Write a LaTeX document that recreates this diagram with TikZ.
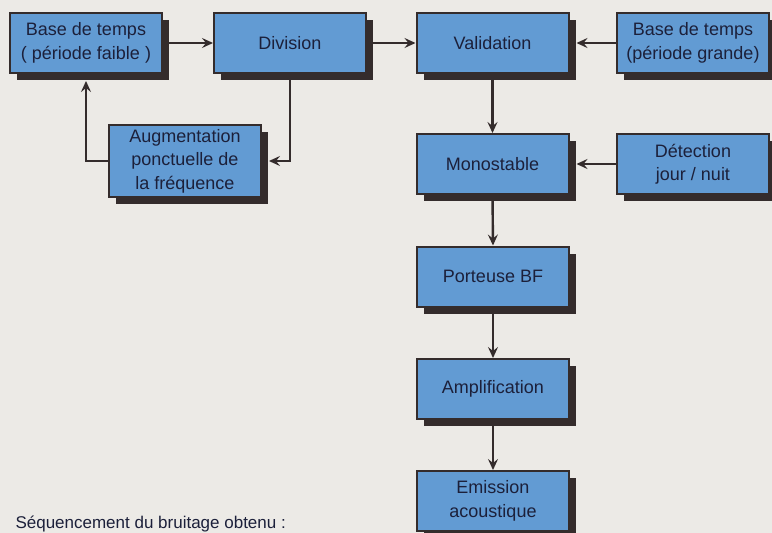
\documentclass[tikz,border=0pt]{standalone}
\usepackage{fontspec}
\setmainfont{Liberation Sans}
\usetikzlibrary{arrows.meta,shadows}
\definecolor{bgc}{RGB}{236,234,230}
\definecolor{boxblue}{RGB}{98,155,211}
\definecolor{ink}{RGB}{28,32,58}
\definecolor{shade}{RGB}{52,44,44}
\begin{document}
\begin{tikzpicture}[x=1pt,y=-1pt,
  blk/.style={draw=shade, line width=2pt, fill=boxblue, minimum width=152pt,
    minimum height=60pt, inner sep=0pt, align=center, text=ink,
    font=\fontsize{18}{23.5}\selectfont,
    drop shadow={shadow xshift=7pt, shadow yshift=-7pt, opacity=1, fill=shade}},
  conn/.style={draw=shade, line width=2.4pt, -{Stealth[length=11pt,width=10pt,inset=4pt]}}]
\fill[bgc] (0,0) rectangle (772,533);
\useasboundingbox (0,0) rectangle (772,533);

\node[blk] (b1)   at (86,43)    {Base de temps\\( période faible )};
\node[blk] (div)  at (290,43)   {Division};
\node[blk, minimum height=72pt] (aug) at (185,161) {Augmentation\\ponctuelle de\\la fréquence};
\node[blk] (val)  at (492.5,43) {Validation};
\node[blk] (bg)   at (693,43)   {Base de temps\\(période grande)};
\node[blk] (mono) at (492.5,164) {Monostable};
\node[blk] (det)  at (693,164)  {Détection\\jour / nuit};
\node[blk] (port) at (493,276.5) {Porteuse BF};
\node[blk] (ampl) at (493,389)  {Amplification};
\node[blk] (emis) at (493,501)  {Emission\\acoustique};

\node[anchor=base west, text=ink, font=\fontsize{17}{21}\selectfont] (seq) at (12,528) {Séquencement du bruitage obtenu :};

\draw[conn] (b1.east) -- (div.west);
\draw[conn] (div.east) -- (val.west);
\draw[conn] (bg.west) -- ([xshift=7pt]val.east);
\draw[conn] (div.south) |- ([xshift=7pt]aug.east);
\draw[conn] (aug.west) -| ([yshift=-7pt]b1.south);
\draw[conn] (val.south) -- (mono.north);
\draw[conn] (det.west) -- ([xshift=7pt]mono.east);
\draw[conn] (mono.south) -- (port.north);
\draw[conn] (port.south) -- (ampl.north);
\draw[conn] (ampl.south) -- (emis.north);
\end{tikzpicture}
\end{document}
